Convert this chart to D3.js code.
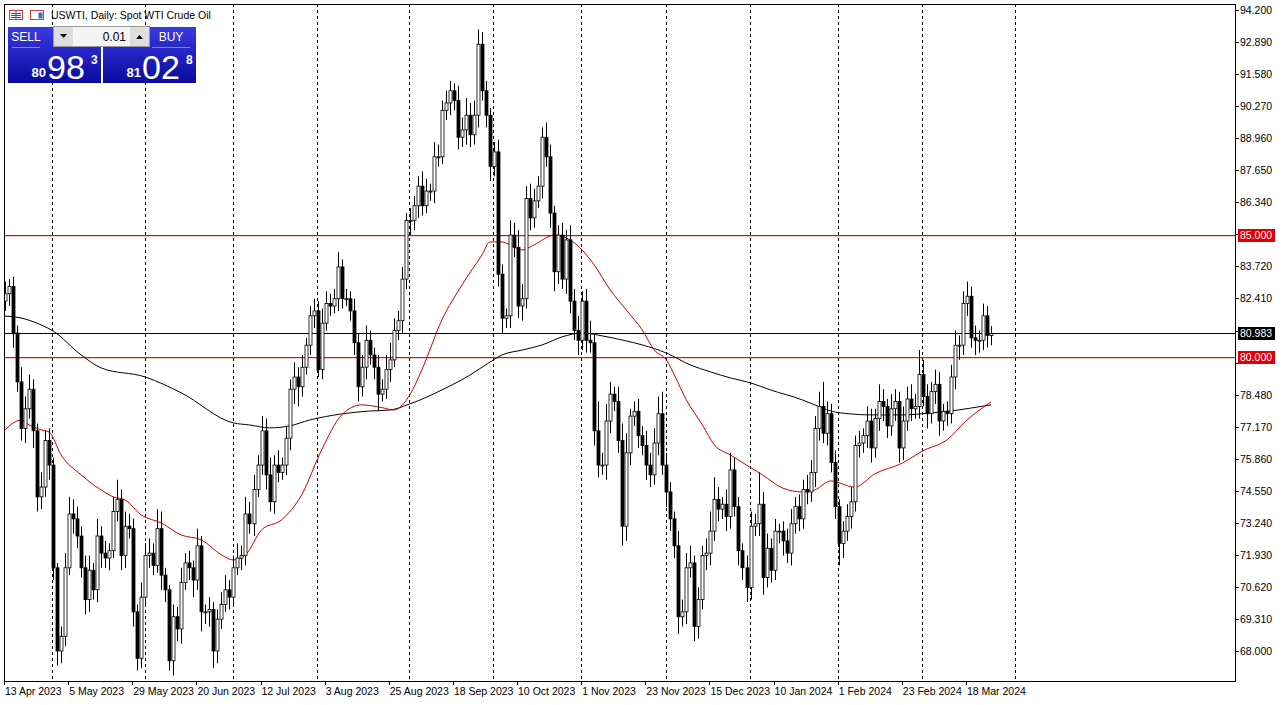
<!DOCTYPE html>
<html><head><meta charset="utf-8">
<script src="https://cdn.jsdelivr.net/npm/d3@7"></script>
<style>body{margin:0;background:#fff;overflow:hidden}svg{display:block}text{font-family:"Liberation Sans",Arial,sans-serif}</style>
</head><body><svg id="c" width="1285" height="705"></svg>
<script>
// ---- data ----
const closes = [
82.6,82.9,81.0,79.0,77.1,77.9,78.7,77.0,74.3,74.7,76.6,75.6,71.4,68.0,68.6,71.4,73.6,73.4,72.7,71.4,
70.1,71.3,70.5,72.7,72.0,71.8,72.1,73.7,74.2,71.9,73.1,73.0,69.6,67.7,70.2,71.9,72.0,71.5,73.0,71.1,
70.5,67.6,69.4,68.9,70.8,71.6,71.4,70.9,72.3,69.6,69.6,69.7,68.0,69.3,69.9,70.5,70.2,71.4,71.8,71.9,73.6,
73.2,74.6,75.6,77.0,75.2,74.1,75.6,75.3,75.6,76.7,78.7,79.2,78.8,79.6,80.5,81.7,81.9,79.5,81.4,82.2,
82.1,82.4,83.7,82.4,82.4,81.9,80.6,78.8,79.6,80.7,80.1,79.6,78.5,78.7,79.5,79.9,81.1,81.5,83.2,85.6,
85.6,86.2,87.0,86.2,86.8,86.8,88.2,88.2,90.1,90.4,90.9,90.5,89.0,89.3,89.9,89.1,89.9,92.8,90.9,89.9,87.8,88.4,
83.4,81.6,81.7,85.0,84.5,82.1,82.4,86.5,85.7,86.4,87.0,89.0,88.2,85.9,83.5,85.0,83.2,84.8,82.3,81.1,
80.7,82.3,80.7,80.6,77.0,75.6,75.6,77.4,78.5,78.2,76.6,73.1,76.1,77.6,77.8,76.8,76.4,75.6,75.2,76.5,
77.7,75.6,74.5,73.4,72.3,69.4,69.6,71.4,71.6,69.0,70.1,71.9,72.0,72.9,74.2,73.8,74.0,73.5,75.4,73.9,72.1,71.4,70.6,
73.1,73.2,74.0,71.0,72.2,71.3,72.9,72.9,72.5,72.0,73.2,73.9,73.4,74.6,74.5,75.3,77.1,78.0,76.9,77.7,
75.7,73.9,72.4,72.9,73.5,74.1,76.4,76.5,76.8,77.4,76.3,77.5,78.2,78.0,77.2,77.9,78.2,76.3,77.4,78.3,
77.9,78.0,79.3,78.4,77.7,78.6,78.9,77.4,77.8,77.7,79.2,80.5,80.5,82.2,82.5,80.8,80.7,80.7,81.7,80.9,80.98];
const firstOpen = 82.3;
const upperWicks = [
0.5,0.3,0.4,0.3,0.6,0.5,0.6,0.4,0.3,0.6,0.4,0.5,0.3,0.2,0.4,0.6,0.7,0.6,0.5,0.4,
0.5,0.6,0.3,0.7,0.4,0.5,0.3,0.6,0.8,0.4,0.6,0.5,0.4,0.3,0.6,0.5,0.6,0.4,0.8,0.7,
0.3,0.2,0.5,0.4,0.6,0.4,0.5,0.3,0.7,0.4,0.3,0.5,0.3,0.4,0.5,0.6,0.4,0.5,0.6,0.4,0.7,
0.5,0.6,0.4,0.6,0.5,0.7,0.4,0.6,0.3,0.5,0.4,0.6,0.4,0.5,0.3,0.4,0.5,0.4,0.6,0.5,
0.4,0.4,0.6,0.3,0.4,0.3,0.5,0.4,0.5,0.6,0.4,0.3,0.5,0.4,0.6,0.7,0.5,0.4,0.5,0.3,
0.5,0.4,0.4,0.6,0.5,0.3,0.6,0.5,0.4,0.5,0.4,0.3,0.6,0.5,0.7,0.5,0.6,0.6,0.5,0.4,0.3,0.4,
0.5,0.4,0.3,0.6,0.5,0.7,0.6,0.5,0.6,0.5,0.4,0.4,0.6,0.5,0.3,0.4,0.5,0.4,0.6,0.5,
0.6,0.4,0.5,0.8,0.4,1.2,0.5,0.7,0.5,0.3,0.6,0.7,0.8,0.3,0.4,0.5,0.4,0.6,0.5,0.6,
0.7,0.9,0.5,0.4,0.3,0.6,0.5,0.6,0.7,0.3,0.5,0.4,0.6,0.8,0.9,0.5,0.3,0.6,0.7,0.5,0.4,0.3,0.5,
0.6,0.4,1.3,0.5,0.6,0.4,0.5,0.3,0.4,0.5,0.6,0.4,0.5,0.4,0.6,0.5,0.5,0.6,1.0,0.5,
0.4,0.5,0.3,0.4,0.5,0.6,0.4,0.5,0.3,0.6,0.5,0.4,0.7,0.5,0.3,0.6,0.5,0.4,0.6,0.5,
0.6,0.5,1.0,0.6,0.5,0.4,0.6,0.5,0.3,0.4,0.5,0.6,0.4,0.5,0.6,0.4,0.5,0.4,0.5,0.4,0.3];
const lowerWicks = [
0.4,0.5,0.6,0.4,0.5,0.6,0.4,0.7,0.6,0.5,0.4,0.6,0.5,0.6,0.5,0.4,0.3,0.6,0.5,0.4,
0.6,0.5,0.4,0.5,0.6,0.4,0.5,0.3,0.4,0.6,0.5,0.4,0.6,0.5,0.4,0.3,0.5,0.4,0.3,0.6,
0.5,0.4,0.6,0.5,0.6,0.3,0.5,0.7,0.4,0.8,0.5,0.6,0.7,0.5,0.4,0.3,0.5,0.4,0.3,0.5,0.4,
0.4,0.5,0.3,0.4,0.6,0.4,0.5,0.4,0.3,0.4,0.5,0.6,0.8,0.4,0.3,0.4,0.5,0.3,0.4,0.3,
0.4,0.3,0.5,0.4,0.3,0.4,0.5,0.6,0.4,0.5,0.4,0.5,0.7,0.3,0.4,0.5,0.3,0.4,0.5,0.4,
0.6,0.4,0.5,0.4,0.3,0.4,0.5,0.4,0.3,0.4,0.5,0.4,0.5,0.4,0.6,0.5,0.4,0.5,0.4,0.5,0.6,0.4,
0.5,0.6,0.4,0.5,0.4,0.5,0.6,0.4,0.5,0.4,0.3,0.5,0.4,0.6,0.8,0.5,0.4,0.6,0.5,0.4,
0.6,0.4,0.5,0.4,0.6,0.5,0.4,0.6,0.5,0.4,0.5,0.8,0.6,0.5,0.4,0.5,0.4,0.6,0.5,0.4,
0.5,0.4,0.6,0.5,0.5,0.7,0.4,0.5,0.4,0.6,0.5,0.4,0.6,0.5,0.4,0.5,0.4,0.6,0.5,0.4,0.6,0.5,0.6,
0.5,0.4,0.5,0.7,0.4,0.5,0.4,0.5,0.6,0.4,0.5,0.4,0.5,0.4,0.5,0.4,0.6,0.5,0.4,0.5,
0.4,0.5,0.9,0.6,0.4,0.5,0.4,0.5,0.4,0.5,0.6,0.4,0.5,0.6,0.5,0.4,0.5,0.6,0.5,0.4,
0.5,0.4,0.5,0.4,0.6,0.4,0.5,0.6,0.4,0.5,0.4,0.5,0.6,0.4,0.5,0.4,0.6,0.5,0.4,0.5,0.4];
// moving averages: [bar index, price]
const maFast = [[0,77.04],[4,77.44],[6,77.24],[9,77.04],[11,76.95],[14,76.01],[19,75.20],[24,74.58],[27,74.30],[30,74.17],[34,73.56],[39,73.23],[44,72.74],[49,72.54],[54,71.93],[57,71.72],[60,71.93],[64,72.95],[69,73.36],[74,74.38],[79,76.22],[84,77.65],[89,78.06],[94,77.95],[97,77.85],[101,78.47],[104,79.49],[109,81.53],[114,82.96],[119,84.19],[121,84.72],[124,84.72],[126,84.60],[129,84.39],[132,84.60],[137,85.0],[141,84.80],[144,84.39],[147,83.78],[151,82.76],[155,81.94],[159,81.12],[162,80.30],[165,79.90],[167,79.28],[170,78.26],[174,77.24],[177,76.42],[181,76.01],[185,75.60],[189,75.20],[194,74.66],[199,74.50],[202,74.58],[206,74.95],[212,74.70],[217,75.24],[224,75.69],[229,76.18],[235,76.63],[240,77.44],[246,78.18]];
const maSlow = [[0,81.69],[4,81.61],[9,81.33],[12,81.08],[19,80.10],[24,79.57],[35,79.20],[44,78.55],[57,77.32],[61,77.24],[66,77.12],[71,77.20],[76,77.44],[84,77.69],[91,77.81],[96,77.85],[101,78.10],[109,78.67],[116,79.28],[121,79.81],[124,80.10],[129,80.30],[134,80.51],[139,80.84],[144,81.00],[149,80.88],[154,80.71],[159,80.51],[165,80.18],[171,79.69],[176,79.41],[181,79.16],[186,78.96],[191,78.67],[199,78.26],[202,78.06],[206,77.81],[211,77.69],[216,77.65],[224,77.65],[231,77.73],[236,77.81],[241,77.93],[246,78.06]];
const monthStarts = [11.75,35,57,77.75,100.75,121.75,143.75,165,185.75,207.75,228.75,252];
const dateLabels = ["13 Apr 2023","5 May 2023","29 May 2023","20 Jun 2023","12 Jul 2023","3 Aug 2023","25 Aug 2023","18 Sep 2023","10 Oct 2023","1 Nov 2023","23 Nov 2023","15 Dec 2023","10 Jan 2024","1 Feb 2024","23 Feb 2024","18 Mar 2024"];
const priceTicks = [94.2,92.89,91.58,90.27,88.96,87.65,86.34,85.03,83.72,82.41,81.1,79.79,78.48,77.17,75.86,74.55,73.24,71.93,70.62,69.31,68.0];
const levels = [85.0,80.0];
const currentPrice = 80.983;

// ---- drawing ----
const svg = d3.select("#c");
const L=4,R=1235,T=4,B=681;
const x = d3.scaleLinear().domain([0,246]).range([5,991]);
const y = d3.scaleLinear().domain([68.0,94.2]).range([651,10]);
svg.append("rect").attr("x",0).attr("y",0).attr("width",1285).attr("height",705).attr("fill","#fff");
svg.append("clipPath").attr("id","pc").append("rect").attr("x",L+1).attr("y",T+1).attr("width",R-L-1).attr("height",B-T-1);
const g = svg.append("g").attr("clip-path","url(#pc)");
g.selectAll("line.vg").data(monthStarts).join("line").attr("class","vg").attr("x1",d=>Math.round(x(d))+0.5).attr("x2",d=>Math.round(x(d))+0.5)
 .attr("y1",T).attr("y2",B).attr("stroke","#000").attr("stroke-width",1).attr("stroke-dasharray","3,3");
g.selectAll("rect.lv").data(levels).join("rect").attr("class","lv").attr("x",L).attr("width",R-L).attr("y",d=>Math.round(y(d))).attr("height",1.2).attr("fill","#ff0000");
g.append("rect").attr("x",L).attr("width",R-L).attr("y",Math.round(y(currentPrice))).attr("height",1).attr("fill","#000");
const ln = d3.line().x(d=>x(d[0])).y(d=>y(d[1])).curve(d3.curveMonotoneX);
g.append("path").attr("d",ln(maSlow)).attr("fill","none").attr("stroke","#000").attr("stroke-width",1);
g.append("path").attr("d",ln(maFast)).attr("fill","none").attr("stroke","#d00000").attr("stroke-width",1);
const bars = closes.map((c,i)=>{const o=i===0?firstOpen:closes[i-1];return {i,o,c,h:Math.max(o,c)+upperWicks[i],l:Math.min(o,c)-lowerWicks[i]};});
const cg = g.selectAll("g.cd").data(bars).join("g").attr("class","cd");
cg.append("line").attr("x1",d=>Math.round(x(d.i))+0.5).attr("x2",d=>Math.round(x(d.i))+0.5).attr("y1",d=>y(d.h)).attr("y2",d=>y(d.l)).attr("stroke","#000");
cg.append("rect").attr("x",d=>Math.round(x(d.i))-1.5+0.5).attr("width",3)
 .attr("y",d=>Math.min(y(d.o),y(d.c))).attr("height",d=>Math.max(1,Math.abs(y(d.o)-y(d.c))))
 .attr("fill",d=>d.c>=d.o?"#fff":"#000").attr("stroke","#000").attr("stroke-width",0.8);
svg.append("rect").attr("x",L+0.5).attr("y",T+0.5).attr("width",R-L).attr("height",B-T).attr("fill","none").attr("stroke","#000");
// price axis
const badgeVals = [levels[0],levels[1],currentPrice];
const pa = svg.append("g");
pa.selectAll("line").data(priceTicks).join("line").attr("x1",R).attr("x2",R+4).attr("y1",d=>Math.round(y(d))+0.5).attr("y2",d=>Math.round(y(d))+0.5).attr("stroke","#000");
pa.selectAll("text").data(priceTicks.filter(t=>badgeVals.every(b=>Math.abs(y(b)-y(t))>=12))).join("text")
 .attr("x",R+5).attr("y",d=>y(d)+4).attr("font-size",10.5).attr("fill","#000").text(d=>d.toFixed(3));
function badge(v,bg){const yy=Math.round(y(v));svg.append("rect").attr("x",R+3).attr("y",yy-6).attr("width",37).attr("height",13).style("fill",bg);
 svg.append("text").attr("x",R+5).attr("y",yy+4).attr("font-size",10.5).style("fill","#ffffff").text(v.toFixed(3));}
badge(levels[0],"#e00000");badge(levels[1],"#e00000");badge(currentPrice,"#000000");
// date axis
const da = svg.append("g");
dateLabels.forEach((t,k)=>{const xx=x(k*16);
 da.append("line").attr("x1",Math.round(xx)-0.5).attr("x2",Math.round(xx)-0.5).attr("y1",B).attr("y2",B+4).attr("stroke","#000");
 da.append("text").attr("x",xx).attr("y",B+14).attr("font-size",10.5).text(t);});
// header
const hd = svg.append("g");
hd.append("rect").attr("x",9.5).attr("y",10.5).attr("width",13).attr("height",9).attr("fill","#fff").attr("stroke","#d04040");
hd.append("line").attr("x1",16).attr("x2",16).attr("y1",11).attr("y2",19).attr("stroke","#3050c0");
[13,15,17].forEach(v=>hd.append("line").attr("x1",11).attr("x2",21).attr("y1",v+0.5).attr("y2",v+0.5).attr("stroke","#3050c0"));
hd.append("rect").attr("x",30.5).attr("y",10.5).attr("width",13).attr("height",9).attr("fill","#fff").attr("stroke","#d04040");
hd.append("rect").attr("x",38.5).attr("y",12.5).attr("width",4).attr("height",6).attr("fill","#3070d0");
hd.append("text").attr("x",51).attr("y",19).attr("font-size",10.5).text("USWTI, Daily:  Spot WTI Crude Oil");
// trade panel
const defs = svg.append("defs");
const gr = defs.append("linearGradient").attr("id","bl").attr("x1",0).attr("y1",0).attr("x2",0).attr("y2",1);
gr.append("stop").attr("offset","0").attr("stop-color","#3a3ae0");gr.append("stop").attr("offset","1").attr("stop-color","#0a0aa0");
[[8,"SELL","80","98","3",12,40],[103,"BUY","81","02","8",152,190]].forEach(([bx,lab,a,b,c,l1,l2])=>{
 svg.append("rect").attr("x",bx).attr("y",27).attr("width",93).attr("height",56).attr("fill","url(#bl)");
 svg.append("line").attr("x1",l1).attr("x2",l2).attr("y1",47.5).attr("y2",47.5).attr("stroke","#8080ff");
 svg.append("text").attr("x",(l1+l2)/2).attr("y",41).attr("font-size",12).attr("fill","#fff").attr("text-anchor","middle").text(lab);
 svg.append("text").attr("x",bx+38).attr("y",77).attr("font-size",13).attr("fill","#fff").attr("font-weight","bold").attr("text-anchor","end").text(a);
 svg.append("text").attr("x",bx+39).attr("y",79).attr("font-size",34).attr("fill","#fff").text(b);
 svg.append("text").attr("x",bx+83).attr("y",64).attr("font-size",12).attr("fill","#fff").attr("font-weight","bold").text(c);
});
svg.append("rect").attr("x",53.5).attr("y",26.5).attr("width",96).attr("height",20).attr("fill","#f4f4f4").attr("stroke","#999");
svg.append("rect").attr("x",54).attr("y",27).attr("width",19).attr("height",19).attr("fill","#ddd");
svg.append("rect").attr("x",130).attr("y",27).attr("width",19).attr("height",19).attr("fill","#ddd");
svg.append("path").attr("d","M60,34 L67,34 L63.5,38 Z").attr("fill","#000");
svg.append("path").attr("d","M136,39 L143,39 L139.5,35 Z").attr("fill","#000");
svg.append("text").attr("x",126).attr("y",41).attr("font-size",12).attr("text-anchor","end").text("0.01");
</script></body></html>
